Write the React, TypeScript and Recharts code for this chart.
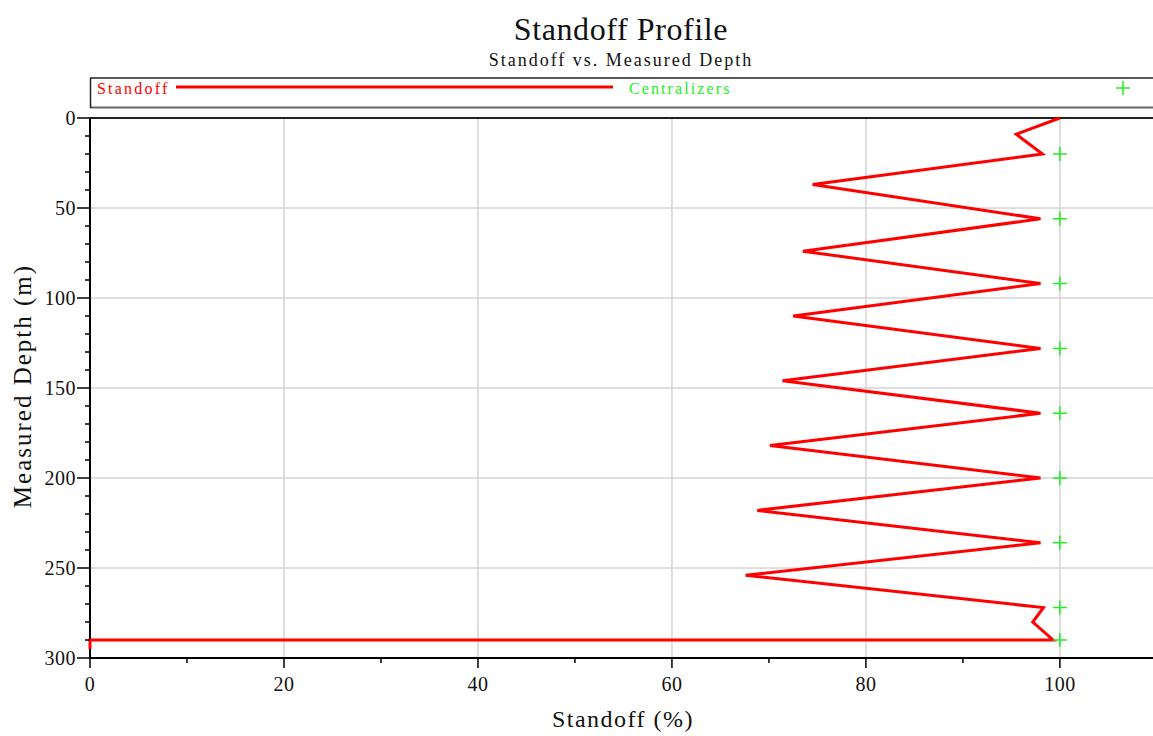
import React from 'react';
import { ScatterChart, Scatter, XAxis, YAxis, ReferenceLine, Label } from 'recharts';

const standoffPct = [100, 95.5, 98.2, 74.5, 98, 73.5, 98, 72.5, 98, 71.4, 98, 70.1, 98, 68.8, 98, 67.6, 98.3, 97.2, 99.3, 0, 0];
const standoffDepth = [0, 9, 20, 37, 56, 74, 92, 110, 128, 146, 164, 182, 200, 218, 236, 254, 272, 280, 290, 290, 295];

const centralizerPct = [100, 100, 100, 100, 100, 100, 100, 100, 100];
const centralizerDepth = [20, 56, 92, 128, 164, 200, 236, 272, 290];

const xTicks = [0, 10, 20, 30, 40, 50, 60, 70, 80, 90, 100];
const xMajor = [0, 20, 40, 60, 80, 100];
const yTicks = [0, 10, 20, 30, 40, 50, 60, 70, 80, 90, 100, 110, 120, 130, 140, 150, 160, 170, 180, 190, 200, 210, 220, 230, 240, 250, 260, 270, 280, 290, 300];
const yMajor = [0, 50, 100, 150, 200, 250, 300];
const xGrid = [20, 40, 60, 80, 100];
const yGrid = [50, 100, 150, 200, 250];

const standoffData = standoffPct.map((x, i) => ({ x, y: standoffDepth[i] }));
const centralizerData = centralizerPct.map((x, i) => ({ x, y: centralizerDepth[i] }));

const FONT = '"Liberation Serif", "Times New Roman", serif';
const RED = '#ff0000';
const GREEN = '#22ee22';

const XTick = (props: any) => {
  const { x, y, payload } = props;
  const major = xMajor.includes(payload.value);
  return (
    <g>
      <line x1={x} x2={x} y1={y} y2={y + (major ? 10 : 5)} stroke="#000" strokeWidth={1.5} />
      {major && (
        <text x={x} y={y + 33} textAnchor="middle" fontSize={20} fontFamily={FONT} letterSpacing={0.5} fill="#111">
          {payload.value}
        </text>
      )}
    </g>
  );
};

const YTick = (props: any) => {
  const { x, y, payload } = props;
  const major = yMajor.includes(payload.value);
  return (
    <g>
      <line x1={x - (major ? 13 : 5)} x2={x} y1={y} y2={y} stroke="#000" strokeWidth={1.5} />
      {major && (
        <text x={x - 14} y={y + 7} textAnchor="end" fontSize={20} fontFamily={FONT} letterSpacing={0.5} fill="#111">
          {payload.value}
        </text>
      )}
    </g>
  );
};

const Plus = (props: any) => {
  const { cx, cy } = props;
  return <path d={`M${cx - 7},${cy}h14M${cx},${cy - 7}v14`} stroke={GREEN} strokeWidth={1.5} fill="none" />;
};

export default function App() {
  return (
    <div style={{ position: 'absolute', left: 0, top: 0, width: 1153, height: 736, overflow: 'hidden', background: '#fff' }}>
      <ScatterChart width={1153} height={736} margin={{ top: 118, right: 0, bottom: 0, left: 0 }}>
        {xGrid.map((v) => (
          <ReferenceLine key={'gx' + v} x={v} stroke="#d4d4d4" strokeWidth={1.5} />
        ))}
        {yGrid.map((v) => (
          <ReferenceLine key={'gy' + v} y={v} stroke="#d4d4d4" strokeWidth={1.5} />
        ))}
        <ReferenceLine y={0} stroke="#222" strokeWidth={2} />
        <XAxis
          type="number"
          dataKey="x"
          domain={[0, 109.6]}
          ticks={xTicks}
          interval={0}
          height={78}
          tickSize={0}
          tickMargin={0}
          tickLine={false}
          tick={<XTick />}
          axisLine={{ stroke: '#000', strokeWidth: 2 }}
        >
          <Label
            content={() => (
              <text x={623} y={727} textAnchor="middle" fontSize={24} fontFamily={FONT} letterSpacing={1.5} fill="#111">
                Standoff (%)
              </text>
            )}
          />
        </XAxis>
        <YAxis
          type="number"
          dataKey="y"
          domain={[0, 300]}
          reversed
          ticks={yTicks}
          interval={0}
          width={90}
          tickSize={0}
          tickMargin={0}
          tickLine={false}
          tick={<YTick />}
          axisLine={{ stroke: '#000', strokeWidth: 2 }}
        >
          <Label
            content={() => (
              <text
                x={31}
                y={386}
                transform="rotate(-90 31 386)"
                textAnchor="middle"
                fontSize={25}
                fontFamily={FONT}
                letterSpacing={2}
                fill="#111"
              >
                Measured Depth (m)
              </text>
            )}
          />
        </YAxis>
        <Scatter
          name="Standoff"
          data={standoffData}
          line={{ stroke: RED, strokeWidth: 3 }}
          lineType="joint"
          shape={() => <g />}
          isAnimationActive={false}
        />
        <Scatter name="Centralizers" data={centralizerData} shape={<Plus />} isAnimationActive={false} />
      </ScatterChart>

      <svg width={1153} height={736} style={{ position: 'absolute', left: 0, top: 0, pointerEvents: 'none' }}>
        <text x={621} y={40} textAnchor="middle" fontSize={32} fontFamily={FONT} letterSpacing={0.6} fill="#111">
          Standoff Profile
        </text>
        <text x={621} y={66} textAnchor="middle" fontSize={18} fontFamily={FONT} letterSpacing={2} fill="#111">
          Standoff vs. Measured Depth
        </text>
        <line x1={90} x2={1153} y1={78} y2={78} stroke="#222" strokeWidth={1.5} />
        <line x1={90} x2={1153} y1={107.5} y2={107.5} stroke="#666" strokeWidth={2} />
        <line x1={90.5} x2={90.5} y1={78} y2={108} stroke="#222" strokeWidth={1.5} />
        <text x={97} y={94} fontSize={16} fontFamily={FONT} letterSpacing={2.2} fill={RED}>
          Standoff
        </text>
        <line x1={176} x2={613} y1={87} y2={87} stroke={RED} strokeWidth={3} />
        <text x={629} y={94} fontSize={16} fontFamily={FONT} letterSpacing={2.1} fill={GREEN}>
          Centralizers
        </text>
        <path d="M1116,88h14M1123,81v14" stroke={GREEN} strokeWidth={1.5} fill="none" />
      </svg>
    </div>
  );
}
